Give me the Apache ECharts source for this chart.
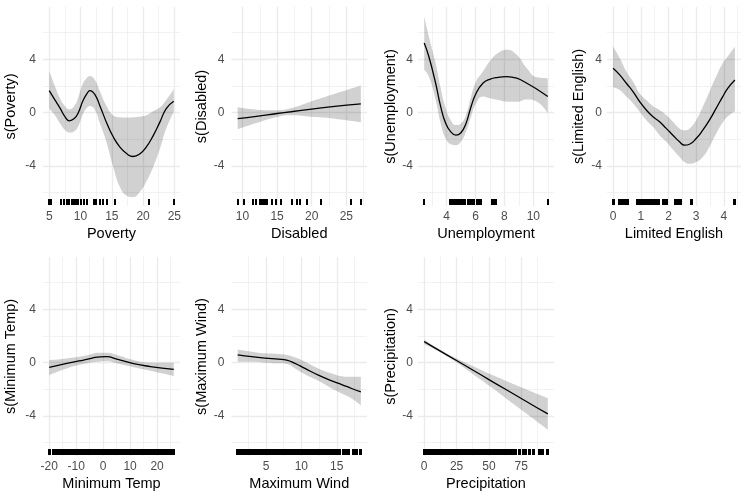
<!DOCTYPE html>
<html><head><meta charset="utf-8">
<script src="https://cdn.jsdelivr.net/npm/echarts@6/dist/echarts.min.js"></script>
<style>html,body{margin:0;padding:0;background:#fff}#c{width:750px;height:500px}</style>
</head><body><div id="c"></div>
<script>
// ---------- data ----------
const yMajor = [-4, 0, 4];
const yMinor = [-6, -2, 2, 6];
const yLimits = [-7.02, 7.93];

const povertyX   = [5.0, 5.9, 6.7, 7.5, 8.2, 9.0, 9.6, 10.4, 11.0, 11.5, 12.3, 13.1, 14.2, 15.2, 16.3, 17.4, 18.4, 19.5, 20.5, 21.6, 22.7, 23.7, 24.9];
const povertyFit = [1.65, 0.95, 0.35, -0.3, -0.62, -0.45, -0.05, 0.9, 1.4, 1.65, 1.35, 0.5, -0.8, -1.8, -2.6, -3.1, -3.3, -3.1, -2.6, -1.75, -0.7, 0.3, 0.85];
const povertyHi  = [3.1, 2.0, 1.1, 0.5, 0.25, 0.5, 1.1, 2.2, 2.6, 2.75, 2.45, 1.6, 0.45, -0.2, -0.35, -0.38, -0.36, -0.3, -0.2, 0.1, 0.4, 0.95, 1.75];
const povertyLo  = [0.3, -0.2, -0.8, -1.3, -1.5, -1.4, -1.05, -0.1, 0.35, 0.5, 0.2, -0.8, -2.3, -4.05, -5.6, -6.25, -6.35, -5.95, -5.2, -4.1, -2.7, -1.2, 0.05];
const povertyRug = [5.0, 5.3, 6.9, 7.3, 7.8, 8.1, 8.6, 8.8, 9.0, 9.2, 9.4, 9.6, 10.0, 10.5, 11.0, 12.2, 12.5, 13.1, 13.6, 14.3, 15.5, 20.9, 24.9];
const povertyMajor = [5, 10, 15, 20, 25];
const povertyMinor = [7.5, 12.5, 17.5, 22.5];
const povertyLimits = [4.0, 25.9];

const disabledX   = [9.3, 12, 15, 17, 20, 23, 27.1];
const disabledFit = [-0.45, -0.28, -0.07, 0.06, 0.26, 0.45, 0.65];
const disabledHi  = [0.39, 0.22, 0.18, 0.32, 0.85, 1.35, 2.03];
const disabledLo  = [-1.25, -0.78, -0.33, -0.2, -0.32, -0.45, -0.74];
const disabledRug = [9.3, 10.2, 11.5, 12.0, 12.5, 12.7, 12.9, 13.1, 13.3, 13.6, 14.3, 14.8, 15.5, 17.1, 17.9, 18.3, 19.3, 21.3, 25.7, 27.1];
const disabledMajor = [10, 15, 20, 25];
const disabledMinor = [12.5, 17.5, 22.5, 27.5];
const disabledLimits = [8.41, 27.99];

const unempX   = [2.45, 2.77, 3.24, 3.59, 3.94, 4.29, 4.64, 4.99, 5.34, 5.69, 6.04, 6.51, 6.98, 7.56, 8.15, 8.85, 9.55, 10.25, 11.0];
const unempFit = [5.22, 4.21, 2.2, 0.44, -0.82, -1.45, -1.7, -1.52, -0.82, 0.44, 1.45, 2.2, 2.5, 2.65, 2.7, 2.58, 2.2, 1.75, 1.2];
const unempHi  = [7.23, 5.72, 3.71, 1.82, 0.31, -0.57, -0.94, -0.82, -0.19, 1.2, 2.33, 3.08, 3.84, 4.47, 4.72, 4.34, 3.33, 2.65, 2.58];
const unempLo  = [3.21, 2.7, 0.94, -0.82, -1.95, -2.38, -2.45, -2.2, -1.45, -0.31, 0.69, 1.2, 1.07, 0.94, 0.82, 0.82, 0.99, 0.82, -0.06];
const unempRug = [2.45, 4.2, 4.3, 4.4, 4.5, 4.6, 4.7, 4.8, 4.9, 5.0, 5.1, 5.2, 5.3, 5.45, 5.6, 5.75, 5.9, 6.1, 6.2, 6.3, 6.4, 7.15, 7.25, 7.35, 7.45, 11.0];
const unempMajor = [4, 6, 8, 10];
const unempMinor = [3, 5, 7, 9, 11];
const unempLimits = [2.02, 11.43];

const englishX   = [0, 0.24, 0.48, 0.72, 0.96, 1.2, 1.44, 1.68, 1.92, 2.16, 2.4, 2.58, 2.76, 3.0, 3.24, 3.48, 3.72, 3.96, 4.14, 4.4];
const englishFit = [3.33, 2.83, 2.2, 1.57, 0.82, 0.19, -0.31, -0.69, -1.19, -1.7, -2.2, -2.45, -2.38, -1.95, -1.32, -0.57, 0.31, 1.2, 1.82, 2.45];
const englishHi  = [4.97, 4.09, 3.08, 2.33, 1.45, 0.94, 0.49, 0.19, -0.19, -0.69, -1.19, -1.32, -1.19, -0.57, 0.44, 1.57, 2.7, 3.71, 4.21, 4.94];
const englishLo  = [1.9, 1.7, 1.2, 0.69, 0.06, -0.57, -1.07, -1.7, -2.2, -2.78, -3.33, -3.71, -3.84, -3.71, -3.33, -2.58, -1.6, -0.75, -0.3, 0.1];
const englishRug = [0.0, 0.05, 0.2, 0.25, 0.3, 0.35, 0.4, 0.45, 0.5, 0.55, 0.85, 0.9, 0.95, 1.0, 1.05, 1.1, 1.15, 1.2, 1.25, 1.3, 1.35, 1.4, 1.45, 1.5, 1.55, 1.6, 1.65, 1.8, 1.85, 1.9, 1.95, 2.25, 2.3, 2.35, 2.4, 2.45, 2.8, 2.85, 4.35, 4.4];
const englishMajor = [0, 1, 2, 3, 4];
const englishMinor = [0.5, 1.5, 2.5, 3.5, 4.5];
const englishLimits = [-0.22, 4.62];

const tempX   = [-20, -13.5, -7.3, -1.1, 1.4, 5.1, 11.3, 17.5, 26.2];
const tempFit = [-0.36, -0.06, 0.19, 0.42, 0.44, 0.26, -0.08, -0.3, -0.52];
const tempHi  = [0.19, 0.31, 0.49, 0.74, 0.74, 0.57, 0.19, -0.01, -0.01];
const tempLo  = [-0.94, -0.44, -0.11, 0.08, 0.1, -0.06, -0.36, -0.62, -1.02];
const tempRug = [-20, -18.5, -18, -17.5, -17, -16.5, -16, -15.5, -15, -14.5, -14, -13.5, -13, -12.5, -12, -11.5, -11, -10.5, -10, -9.5, -9, -8.5, -8, -7.5, -7, -6.5, -6, -5.5, -5, -4.5, -4, -3.5, -3, -2.5, -2, -1.5, -1, -0.5, 0, 0.5, 1, 1.5, 2, 2.5, 3, 3.5, 4, 4.5, 5, 5.5, 6, 6.5, 7, 7.5, 8, 8.5, 9, 9.5, 10, 10.5, 11, 11.5, 12, 12.5, 13, 13.5, 14, 14.5, 15, 15.5, 16, 16.5, 17, 17.5, 18, 18.5, 19, 19.5, 20, 20.5, 21, 21.5, 22, 22.5, 23, 23.5, 24, 24.5, 25, 25.5, 26, 26.2];
const tempMajor = [-20, -10, 0, 10, 20];
const tempMinor = [-15, -5, 5, 15, 25];
const tempLimits = [-22.31, 28.51];

const windX   = [1.0, 2.97, 4.86, 6.75, 7.92, 9.1, 10.5, 12.4, 14.3, 15.7, 17.1, 18.4];
const windFit = [0.57, 0.44, 0.33, 0.26, 0.19, -0.06, -0.44, -0.94, -1.37, -1.65, -1.95, -2.2];
const windHi  = [0.99, 0.82, 0.69, 0.64, 0.57, 0.39, 0.06, -0.44, -0.82, -1.02, -1.07, -1.07];
const windLo  = [0.06, 0.06, -0.01, -0.06, -0.11, -0.44, -0.87, -1.37, -1.95, -2.33, -2.7, -3.21];
const windRug = [1.0, 1.2, 1.4, 1.6, 1.8, 2.0, 2.2, 2.4, 2.6, 2.8, 3.0, 3.2, 3.4, 3.6, 3.8, 4.0, 4.2, 4.4, 4.6, 4.8, 5.0, 5.2, 5.4, 5.6, 5.8, 6.0, 6.2, 6.4, 6.6, 6.8, 7.0, 7.2, 7.4, 7.6, 7.8, 8.0, 8.2, 8.4, 8.6, 8.8, 9.0, 9.2, 9.4, 9.6, 9.8, 10.0, 10.2, 10.4, 10.6, 10.8, 11.0, 11.2, 11.4, 11.6, 11.8, 12.0, 12.2, 12.4, 12.6, 12.8, 13.0, 13.2, 13.4, 13.6, 13.8, 14.0, 14.2, 14.4, 14.6, 14.8, 15.0, 15.2, 15.4, 15.9, 16.4, 16.7, 17.3, 17.8, 18.4];
const windMajor = [5, 10, 15];
const windMinor = [2.5, 7.5, 12.5, 17.5];
const windLimits = [0.13, 19.27];

const precipX   = [0, 12.5, 25, 37.5, 50, 62.5, 75, 87.5, 95.5];
const precipFit = [1.57, 0.86, 0.15, -0.56, -1.28, -1.99, -2.7, -3.41, -3.86];
const precipHi  = [1.74, 0.96, 0.30, -0.26, -0.83, -1.34, -1.85, -2.36, -2.67];
const precipLo  = [1.40, 0.76, 0.00, -0.86, -1.73, -2.64, -3.55, -4.46, -5.03];
const precipRug = [0, 1, 2, 3, 4, 5, 6, 7, 8, 9, 10, 11, 12, 13, 14, 15, 16, 17, 18, 19, 20, 21, 22, 23, 24, 25, 26, 27, 28, 29, 30, 31, 32, 33, 34, 35, 36, 37, 38, 39, 40, 41, 42, 43, 44, 45, 46, 47, 48, 49, 50, 51, 52, 53, 54, 55, 56, 57, 58, 59, 60.7, 61.7, 62.7, 63.7, 64.7, 65.7, 66.7, 67.7, 68.3, 70.9, 74.0, 76.4, 78.5, 81.6, 84.8, 88.7, 91.7, 95.5];
const precipMajor = [0, 25, 50, 75];
const precipMinor = [12.5, 37.5, 62.5, 87.5];
const precipLimits = [-4.78, 100.28];

// ---------- layout ----------
const FONT = '"Liberation Sans", Arial, Helvetica, sans-serif';
const COLS = [
  {left: 43,    width: 137,   yLabelMargin: 7, yNameGap: 24.5},
  {left: 231.5, width: 135.5, yLabelMargin: 7, yNameGap: 20.5},
  {left: 418,   width: 136,   yLabelMargin: 5, yNameGap: 19.5},
  {left: 607,   width: 134,   yLabelMargin: 5, yNameGap: 20.5}
];
const ROWS = [{top: 7, height: 199}, {top: 257, height: 199}];
const RUG_LEN = 6;

const panels = [
  {name: 'Poverty', x: povertyX, fit: povertyFit, hi: povertyHi, lo: povertyLo, rug: povertyRug, major: povertyMajor, minor: povertyMinor, lim: povertyLimits, col: 0, row: 0, rugW: 2},
  {name: 'Disabled', x: disabledX, fit: disabledFit, hi: disabledHi, lo: disabledLo, rug: disabledRug, major: disabledMajor, minor: disabledMinor, lim: disabledLimits, col: 1, row: 0, rugW: 2},
  {name: 'Unemployment', x: unempX, fit: unempFit, hi: unempHi, lo: unempLo, rug: unempRug, major: unempMajor, minor: unempMinor, lim: unempLimits, col: 2, row: 0, rugW: 2},
  {name: 'Limited English', x: englishX, fit: englishFit, hi: englishHi, lo: englishLo, rug: englishRug, major: englishMajor, minor: englishMinor, lim: englishLimits, col: 3, row: 0, rugW: 2},
  {name: 'Minimum Temp', x: tempX, fit: tempFit, hi: tempHi, lo: tempLo, rug: tempRug, major: tempMajor, minor: tempMinor, lim: tempLimits, col: 0, row: 1, rugW: 3},
  {name: 'Maximum Wind', x: windX, fit: windFit, hi: windHi, lo: windLo, rug: windRug, major: windMajor, minor: windMinor, lim: windLimits, col: 1, row: 1, rugW: 3},
  {name: 'Precipitation', x: precipX, fit: precipFit, hi: precipHi, lo: precipLo, rug: precipRug, major: precipMajor, minor: precipMinor, lim: precipLimits, col: 2, row: 1, rugW: 3}
];

const grid = [], xAxis = [], yAxis = [], series = [];
const majorLine = {show: true, lineStyle: {color: '#EBEBEB', width: 1.3}};
const minorLine = {show: true, lineStyle: {color: '#EDEDED', width: 0.7}};

panels.forEach((p, i) => {
  const c = COLS[p.col], r = ROWS[p.row];
  grid.push({left: c.left, width: c.width, top: r.top, height: r.height, containLabel: false, outerBoundsMode: 'none'});
  xAxis.push({
    type: 'value', gridIndex: i, min: p.lim[0], max: p.lim[1],
    name: p.name, nameLocation: 'middle', nameGap: 20,
    nameTextStyle: {fontSize: 14.5, color: '#000', fontFamily: FONT},
    axisLine: {show: false}, axisTick: {show: false, customValues: p.major},
    axisLabel: {customValues: p.major, fontSize: 12, color: '#4D4D4D', margin: 5, fontFamily: FONT, hideOverlap: false},
    splitLine: majorLine, z: 1
  });
  xAxis.push({
    type: 'value', gridIndex: i, min: p.lim[0], max: p.lim[1],
    axisLine: {show: false}, axisTick: {show: false, customValues: p.minor},
    axisLabel: {show: false, customValues: p.minor}, splitLine: minorLine, z: 0
  });
  yAxis.push({
    type: 'value', gridIndex: i, min: yLimits[0], max: yLimits[1],
    name: 's(' + p.name + ')', nameLocation: 'middle', nameGap: c.yNameGap,
    nameTextStyle: {fontSize: 14.5, color: '#000', fontFamily: FONT},
    axisLine: {show: false}, axisTick: {show: false, customValues: yMajor},
    axisLabel: {customValues: yMajor, fontSize: 12, color: '#4D4D4D', margin: c.yLabelMargin, fontFamily: FONT},
    splitLine: majorLine, z: 1
  });
  yAxis.push({
    type: 'value', gridIndex: i, min: yLimits[0], max: yLimits[1],
    axisLine: {show: false}, axisTick: {show: false, customValues: yMinor},
    axisLabel: {show: false, customValues: yMinor}, splitLine: minorLine, z: 0
  });
  const xi = 2 * i, yi = 2 * i;
  // confidence band: lower edge (invisible) + stacked width (filled).
  // y is put first in each item so that the stack runs along y.
  series.push({
    type: 'line', xAxisIndex: xi, yAxisIndex: yi, stack: 'band' + i, stackStrategy: 'all',
    data: p.x.map((v, k) => [p.lo[k], v]), encode: {x: 1, y: 0},
    smooth: true, symbol: 'none', lineStyle: {opacity: 0}, silent: true, z: 2, animation: false
  });
  series.push({
    type: 'line', xAxisIndex: xi, yAxisIndex: yi, stack: 'band' + i, stackStrategy: 'all',
    data: p.x.map((v, k) => [p.hi[k] - p.lo[k], v]), encode: {x: 1, y: 0},
    smooth: true, symbol: 'none', lineStyle: {opacity: 0},
    areaStyle: {color: 'rgba(0,0,0,0.18)', opacity: 1}, silent: true, z: 2, animation: false
  });
  series.push({
    type: 'line', xAxisIndex: xi, yAxisIndex: yi,
    data: p.x.map((v, k) => [v, p.fit[k]]), smooth: true, symbol: 'none',
    lineStyle: {color: '#000', width: 1.3}, silent: true, z: 3, animation: false
  });
  // rug: one small filled rect per observation, snapped to whole pixels
  const rugW = p.rugW;
  series.push({
    type: 'custom', xAxisIndex: xi, yAxisIndex: yi,
    data: p.rug.map(v => [v, yLimits[0]]), encode: {x: 0, y: 1},
    renderItem: (params, api) => {
      const pt = api.coord([api.value(0), api.value(1)]);
      const px = Math.round(pt[0] - rugW / 2);
      const py = Math.round(pt[1]) - 1 - RUG_LEN;
      return {type: 'rect', shape: {x: px, y: py, width: rugW, height: RUG_LEN},
              style: {fill: '#000', stroke: null}};
    },
    silent: true, clip: false, z: 4, animation: false
  });
});

const chart = echarts.init(document.getElementById('c'), null, {renderer: 'canvas'});
chart.setOption({backgroundColor: '#fff', animation: false, grid, xAxis, yAxis, series});
</script>
</body></html>
